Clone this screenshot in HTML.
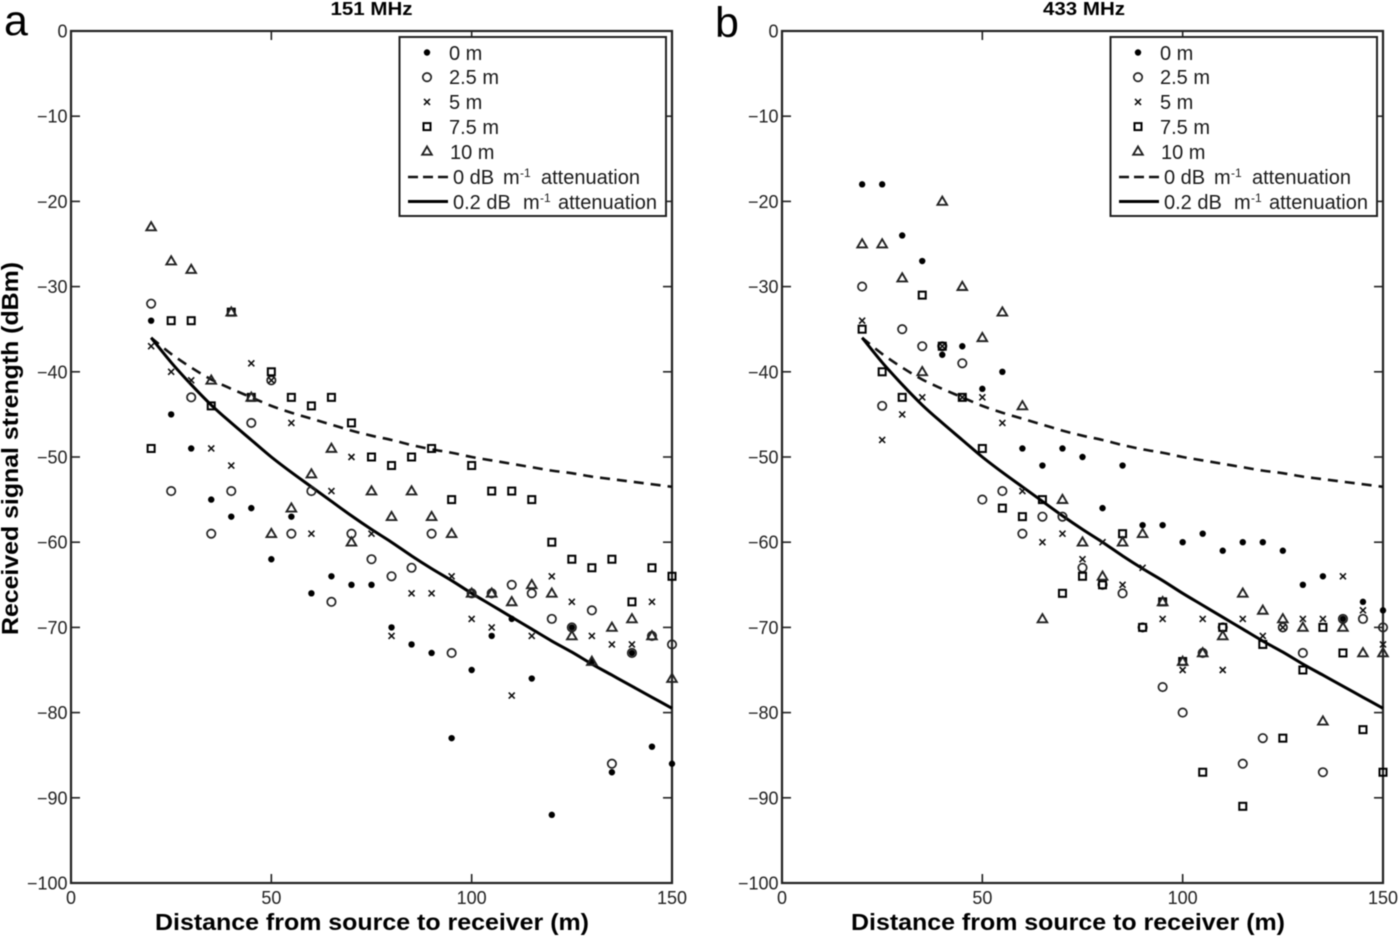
<!DOCTYPE html>
<html lang="en">
<head>
<meta charset="utf-8">
<title>Received signal strength vs distance</title>
<style>
  html, body { margin: 0; padding: 0; background: #fff; }
  svg { display: block; font-family: "Liberation Sans", sans-serif; filter: blur(0.5px); }
  .tick-label { font-size: 18px; fill: #222; }
  .axis-title { font-size: 23px; font-weight: bold; fill: #000; }
  .panel-title { font-size: 18.5px; font-weight: bold; fill: #000; text-anchor: middle; }
  .panel-letter { font-size: 43px; fill: #000; }
  .legend-text { font-size: 20px; fill: #1a1a1a; }
  .legend-sup { font-size: 12px; fill: #1a1a1a; }
</style>
</head>
<body>
<svg id="figure" width="1400" height="936" viewBox="0 0 1400 936" xmlns="http://www.w3.org/2000/svg">
  <rect width="1400" height="936" fill="#fff"/>

  <text class="panel-letter" x="4" y="35">a</text>
  <text class="panel-letter" x="715" y="37">b</text>
  <text class="panel-title" x="371.5" y="15" textLength="82" lengthAdjust="spacingAndGlyphs">151 MHz</text>
  <text class="panel-title" x="1084" y="15" textLength="82" lengthAdjust="spacingAndGlyphs">433 MHz</text>

  <text class="axis-title" transform="translate(18,448.5) rotate(-90)" text-anchor="middle" textLength="373" lengthAdjust="spacingAndGlyphs">Received signal strength (dBm)</text>
  <text class="axis-title" x="372" y="930" text-anchor="middle" textLength="434" lengthAdjust="spacingAndGlyphs">Distance from source to receiver (m)</text>
  <text class="axis-title" x="1068" y="930" text-anchor="middle" textLength="434" lengthAdjust="spacingAndGlyphs">Distance from source to receiver (m)</text>

  <g id="panel-a"></g>
  <g id="panel-b"></g>

  <g id="legend-a">
    <rect x="399.5" y="37" width="266.5" height="179" fill="#fff" stroke="#222" stroke-width="2"/>
    <text class="legend-text" x="449" y="60">0 m</text>
    <text class="legend-text" x="449" y="84">2.5 m</text>
    <text class="legend-text" x="449" y="109">5 m</text>
    <text class="legend-text" x="449" y="134">7.5 m</text>
    <text class="legend-text" x="450" y="159">10 m</text>
    <text class="legend-text" y="184"><tspan x="453">0 dB</tspan><tspan x="503">m</tspan><tspan class="legend-sup" x="520" dy="-7">-1</tspan><tspan x="541" dy="7">attenuation</tspan></text>
    <text class="legend-text" y="209"><tspan x="453">0.2 dB</tspan><tspan x="523">m</tspan><tspan class="legend-sup" x="540" dy="-7">-1</tspan><tspan x="558" dy="7">attenuation</tspan></text>
  </g>
  <g id="legend-b" transform="translate(711,0)">
    <rect x="399.5" y="37" width="266.5" height="179" fill="#fff" stroke="#222" stroke-width="2"/>
    <text class="legend-text" x="449" y="60">0 m</text>
    <text class="legend-text" x="449" y="84">2.5 m</text>
    <text class="legend-text" x="449" y="109">5 m</text>
    <text class="legend-text" x="449" y="134">7.5 m</text>
    <text class="legend-text" x="450" y="159">10 m</text>
    <text class="legend-text" y="184"><tspan x="453">0 dB</tspan><tspan x="503">m</tspan><tspan class="legend-sup" x="520" dy="-7">-1</tspan><tspan x="541" dy="7">attenuation</tspan></text>
    <text class="legend-text" y="209"><tspan x="453">0.2 dB</tspan><tspan x="523">m</tspan><tspan class="legend-sup" x="540" dy="-7">-1</tspan><tspan x="558" dy="7">attenuation</tspan></text>
  </g>
</svg>

<script>
// Shared axis data
var distances = [20,25,30,35,40,45,50,55,60,65,70,75,80,85,90,95,100,105,110,115,120,125,130,135,140,145,150];
var xTickValues = [0,50,100,150];
var yTickValues = [0,-10,-20,-30,-40,-50,-60,-70,-80,-90,-100];

// Model curves (same in both panels)
var curveNoAttenuation = [-36,-37.9,-39.5,-40.9,-42,-43,-44,-44.8,-45.5,-46.2,-46.9,-47.5,-48,-48.6,-49.1,-49.5,-50,-50.4,-50.8,-51.2,-51.6,-51.9,-52.3,-52.6,-52.9,-53.2,-53.5];
var curveAttenuation = [-36,-38.9,-41.5,-43.9,-46,-48,-50,-51.8,-53.5,-55.2,-56.9,-58.5,-60,-61.6,-63.1,-64.5,-66,-67.4,-68.8,-70.2,-71.6,-72.9,-74.3,-75.6,-76.9,-78.2,-79.5];

// Panel a: 151 MHz
var a0m = [-34,-45,-49,-55,-57,-56,-62,-57,-66,-64,-65,-65,-70,-72,-73,-83,-75,-71,-69,-76,-92,-70,-74,-87,-73,-84,-86];
var a2_5m = [-32,-54,-43,-59,-54,-46,-41,-59,-54,-67,-59,-62,-64,-63,-59,-73,-66,-66,-65,-66,-69,-70,-68,-86,-73,-71,-72];
var a5m = [-37,-40,-41,-49,-51,-39,-41,-46,-59,-54,-50,-59,-71,-66,-66,-64,-69,-70,-78,-71,-64,-67,-71,-72,-72,-67,null];
var a7_5m = [-49,-34,-34,-44,-33,-43,-40,-43,-44,-43,-46,-50,-51,-50,-49,-55,-51,-54,-54,-55,-60,-62,-63,-62,-67,-63,-64];
var a10m = [-23,-27,-28,-41,-33,-43,-59,-56,-52,-49,-60,-54,-57,-54,-57,-59,-66,-66,-67,-65,-66,-71,-74,-70,-69,-71,-76];

// Panel b: 433 MHz
var b0m = [-18,-18,-24,-27,-38,-37,-42,-40,-49,-51,-49,-50,-56,-51,-58,-58,-60,-59,-61,-60,-60,-61,-65,-64,-69,-67,-68];
var b2_5m = [-30,-44,-35,-37,-37,-39,-55,-54,-59,-57,-57,-63,-65,-66,-70,-77,-80,-73,-70,-86,-83,-70,-73,-87,-69,-69,-70];
var b5m = [-34,-48,-45,-43,-37,-43,-43,-46,-54,-60,-59,-62,-60,-65,-63,-69,-75,-69,-75,-69,-71,-70,-69,-69,-64,-68,-72];
var b7_5m = [-35,-40,-43,-31,-37,-43,-49,-56,-57,-55,-66,-64,-65,-59,-70,-67,-74,-87,-70,-91,-72,-83,-75,-70,-73,-82,-87];
var b10m = [-25,-25,-29,-40,-20,-30,-36,-33,-44,-69,-55,-60,-64,-60,-59,-67,-74,-73,-71,-66,-68,-69,-70,-81,-70,-73,-73];

var SVGNS = 'http://www.w3.org/2000/svg';
var INK = '#111';

function make(tag, parent, attrs) {
  var el = document.createElementNS(SVGNS, tag);
  for (var k in attrs) { el.setAttribute(k, attrs[k]); }
  parent.appendChild(el);
  return el;
}

function drawMarker(parent, kind, px, py) {
  var el;
  if (kind === 'dot') {
    el = make('circle', parent, {cx: px, cy: py, r: 3.2, fill: '#000'});
  } else if (kind === 'circle') {
    el = make('circle', parent, {cx: px, cy: py, r: 4.2, fill: 'none', stroke: '#222', 'stroke-width': 1.7});
  } else if (kind === 'cross') {
    el = make('path', parent, {d: 'M' + (px-3) + ' ' + (py-3) + 'L' + (px+3) + ' ' + (py+3) + 'M' + (px-3) + ' ' + (py+3) + 'L' + (px+3) + ' ' + (py-3), fill: 'none', stroke: '#111', 'stroke-width': 1.6});
  } else if (kind === 'square') {
    el = make('rect', parent, {x: px-3.5, y: py-3.5, width: 7, height: 7, fill: 'none', stroke: '#000', 'stroke-width': 2});
  } else {
    el = make('path', parent, {d: 'M' + px + ' ' + (py-4.8) + 'L' + (px+4.8) + ' ' + (py+3.4) + 'L' + (px-4.8) + ' ' + (py+3.4) + 'Z', fill: 'none', stroke: '#222', 'stroke-width': 1.9});
  }
  return el;
}

function drawPanel(root, left, series) {
  var right = left + 601, top = 31, bottom = 883;
  function xScale(v) { return left + v / 150 * (right - left); }
  function yScale(v) { return top - v / 100 * (bottom - top); }

  var axes = make('g', root, {});
  
  
  var frame = make('rect', axes, {x: left, y: top, width: right - left, height: bottom - top, fill: 'none', stroke: '#222', 'stroke-width': 2.2});
  
  

  xTickValues.forEach(function (v) {
    var px = xScale(v);
    if (v !== xTickValues[0] && v !== xTickValues[xTickValues.length - 1]) {
      var t1 = make('line', axes, {x1: px, x2: px, y1: bottom, y2: bottom - 9, stroke: '#222', 'stroke-width': 1.6});
      
      
      var t2 = make('line', axes, {x1: px, x2: px, y1: top, y2: top + 9, stroke: '#222', 'stroke-width': 1.6});
      
      
    }
    var lab = make('text', axes, {x: px, y: 904, 'text-anchor': 'middle', 'class': 'tick-label'});
    lab.textContent = String(v);
    
    
  });

  yTickValues.forEach(function (v) {
    var py = yScale(v);
    if (v !== yTickValues[0] && v !== yTickValues[yTickValues.length - 1]) {
      var t1 = make('line', axes, {x1: left, x2: left + 9, y1: py, y2: py, stroke: '#222', 'stroke-width': 1.6});
      
      
      var t2 = make('line', axes, {x1: right, x2: right - 9, y1: py, y2: py, stroke: '#222', 'stroke-width': 1.6});
      
      
    }
    var lab = make('text', axes, {x: left - 3.5, y: py + 6.5, 'text-anchor': 'end', 'class': 'tick-label'});
    lab.textContent = String(v).replace('-', '\u2212');
    
    
  });

  // Smooth path through the read curve values (Catmull-Rom to Bezier)
  function curvePath(values) {
    var pts = values.map(function (v, i) { return [xScale(distances[i]), yScale(v)]; });
    var d = 'M' + pts[0][0].toFixed(2) + ' ' + pts[0][1].toFixed(2);
    for (var i = 0; i < pts.length - 1; i++) {
      var p0 = pts[Math.max(i - 1, 0)], p1 = pts[i], p2 = pts[i + 1], p3 = pts[Math.min(i + 2, pts.length - 1)];
      d += 'C' + (p1[0] + (p2[0] - p0[0]) / 6).toFixed(2) + ' ' + (p1[1] + (p2[1] - p0[1]) / 6).toFixed(2) +
           ' ' + (p2[0] - (p3[0] - p1[0]) / 6).toFixed(2) + ' ' + (p2[1] - (p3[1] - p1[1]) / 6).toFixed(2) +
           ' ' + p2[0].toFixed(2) + ' ' + p2[1].toFixed(2);
    }
    return d;
  }
  var dashed = make('path', root, {d: curvePath(curveNoAttenuation), fill: 'none', stroke: INK, 'stroke-width': 2.6, 'stroke-dasharray': '10 7'});
  
  
  var solid = make('path', root, {d: curvePath(curveAttenuation), fill: 'none', stroke: '#000', 'stroke-width': 3});
  
  

  series.forEach(function (s) {
    var g = make('g', root, {});
    
    
    s.values.forEach(function (v, i) {
      if (v === null) { return; }
      var m = drawMarker(g, s.kind, xScale(distances[i]), yScale(v));
      
      
    });
  });
}

function drawLegendKeys(root) {
  var kinds = ['dot', 'circle', 'cross', 'square', 'triangle'];
  var keys = make('g', root, {});
  
  
  kinds.forEach(function (kind, i) {
    var m = drawMarker(keys, kind, 427, 52.5 + i * 24.7);
    
    
  });
  var d = make('line', keys, {x1: 408, x2: 448, y1: 177, y2: 177, stroke: INK, 'stroke-width': 2.6, 'stroke-dasharray': '10 5'});
  
  
  var l = make('line', keys, {x1: 408, x2: 448, y1: 201.5, y2: 201.5, stroke: '#000', 'stroke-width': 3});
  
  
}

drawPanel(document.getElementById('panel-a'), 71, [
  {name: '0m', kind: 'dot', values: a0m},
  {name: '2-5m', kind: 'circle', values: a2_5m},
  {name: '5m', kind: 'cross', values: a5m},
  {name: '7-5m', kind: 'square', values: a7_5m},
  {name: '10m', kind: 'triangle', values: a10m}
]);
drawPanel(document.getElementById('panel-b'), 782, [
  {name: '0m', kind: 'dot', values: b0m},
  {name: '2-5m', kind: 'circle', values: b2_5m},
  {name: '5m', kind: 'cross', values: b5m},
  {name: '7-5m', kind: 'square', values: b7_5m},
  {name: '10m', kind: 'triangle', values: b10m}
]);
drawLegendKeys(document.getElementById('legend-a'));
drawLegendKeys(document.getElementById('legend-b'));
</script>
</body>
</html>
